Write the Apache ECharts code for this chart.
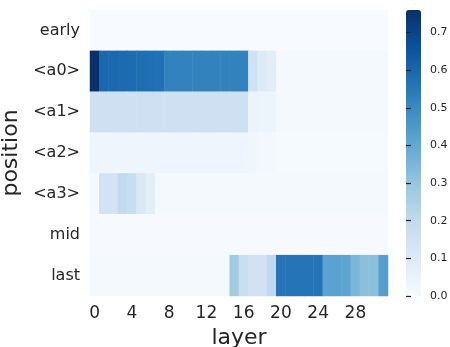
<!DOCTYPE html>
<html><head><meta charset="utf-8">
<script src="https://cdn.jsdelivr.net/npm/echarts@6/dist/echarts.min.js"></script>
<style>html,body{margin:0;padding:0;background:#fff}#c{width:450px;height:347px}</style>
</head><body><div id="c"></div>
<script>
var positions = ['early','<a0>','<a1>','<a2>','<a3>','mid','last'];
var layers = [];
for (var i = 0; i < 32; i++) layers.push(String(i));
var rowEarly = [0,0,0,0,0,0,0,0,0,0,0,0,0,0,0,0,0,0,0,0,0,0,0,0,0,0,0,0,0,0,0,0];
var rowA0 = [0.76,0.6,0.595,0.59,0.585,0.58,0.575,0.57,0.52,0.52,0.52,0.52,0.52,0.52,0.52,0.52,0.52,0.155,0.10,0.085,0.01,0.01,0.01,0.01,0.01,0.01,0.01,0.01,0.01,0.01,0.01,0.01];
var rowA1 = [0.16,0.16,0.16,0.16,0.16,0.16,0.16,0.16,0.16,0.16,0.16,0.16,0.16,0.16,0.16,0.16,0.16,0.045,0.04,0.04,0.01,0.01,0.01,0.01,0.01,0.01,0.01,0.01,0.01,0.01,0.01,0.01];
var rowA2 = [0.035,0.035,0.035,0.035,0.035,0.035,0.035,0.035,0.035,0.035,0.035,0.035,0.035,0.035,0.035,0.035,0.035,0.03,0.015,0.015,0.008,0.008,0.008,0.008,0.008,0.008,0.008,0.008,0.008,0.008,0.008,0.008];
var rowA3 = [0.01,0.14,0.14,0.2,0.18,0.11,0.076,0.01,0.01,0.01,0.01,0.01,0.01,0.01,0.01,0.01,0.01,0.01,0.01,0.01,0.01,0.01,0.01,0.01,0.01,0.01,0.01,0.01,0.01,0.01,0.01,0.01];
var rowMid = [0.005,0.005,0.005,0.005,0.005,0.005,0.005,0.005,0.005,0.005,0.005,0.005,0.005,0.005,0.005,0.005,0.005,0.005,0.005,0.005,0.005,0.005,0.005,0.005,0.005,0.005,0.005,0.005,0.005,0.005,0.005,0.005];
var rowLast = [0.01,0.01,0.01,0.01,0.01,0.01,0.01,0.01,0.01,0.01,0.01,0.01,0.01,0.01,0.01,0.28,0.17,0.145,0.145,0.205,0.56,0.56,0.56,0.56,0.56,0.42,0.42,0.41,0.35,0.32,0.32,0.43];
var cbAxisMax = 0.8;
var vmax = 0.76;

var rows = [rowEarly,rowA0,rowA1,rowA2,rowA3,rowMid,rowLast];
var data = [];
rows.forEach(function(r, yi){ r.forEach(function(v, xi){ data.push([xi, yi, v]); }); });

var blues = ['#f7fbff','#deebf7','#c6dbef','#9ecae1','#6baed6','#4292c6','#2171b5','#08519c','#08306b'];
var txt = '#262626';
var ff = 'DejaVu Sans';
var barTop = 10, barH = 286;
var axH = barH * cbAxisMax / vmax;
var chart = echarts.init(document.getElementById('c'), null, {renderer:'canvas'});
chart.setOption({
  animation:false,
  textStyle:{fontFamily:ff},
  grid:[
    {left:90, top:10, width:298, height:286, containLabel:false, outerBoundsMode:'none'},
    {left:406, top:barTop + barH - axH, width:15, height:axH, containLabel:false, outerBoundsMode:'none'}
  ],
  xAxis:[
    {type:'category', data:layers, gridIndex:0, axisLine:{show:false}, axisTick:{show:false}, splitLine:{show:false},
     axisLabel:{interval:3, color:txt, fontSize:17, fontFamily:ff, margin:9},
     name:'layer', nameLocation:'middle', nameGap:29, nameTextStyle:{color:txt, fontSize:22, fontFamily:ff}},
    {type:'value', gridIndex:1, show:false, min:0, max:1}
  ],
  yAxis:[
    {type:'category', data:positions, inverse:true, gridIndex:0, axisLine:{show:false}, axisTick:{show:false}, splitLine:{show:false},
     axisLabel:{color:txt, fontSize:16, fontFamily:ff, margin:10},
     name:'position', nameLocation:'middle', nameGap:56, nameRotate:90, nameTextStyle:{color:txt, fontSize:22, fontFamily:ff}},
    {type:'value', gridIndex:1, position:'right', min:0, max:cbAxisMax, interval:0.1, z:10,
     axisLine:{show:true, lineStyle:{color:'rgba(0,0,0,0)'}}, splitLine:{show:false},
     axisTick:{show:true, inside:false, length:5, lineStyle:{color:txt, width:1.2}},
     axisLabel:{showMaxLabel:false, color:txt, fontSize:11, fontFamily:ff, margin:9, formatter:function(v){return v.toFixed(1);}}}
  ],
  visualMap:{type:'continuous', min:0, max:vmax, calculable:false, show:true, orient:'vertical',
    left:406, top:barTop, itemWidth:15, itemHeight:barH, padding:0, text:null, showLabel:false, hoverLink:false,
    inRange:{color:blues}, seriesIndex:0},
  series:[{type:'heatmap', xAxisIndex:0, yAxisIndex:0, data:data, itemStyle:{borderWidth:0}, emphasis:{disabled:true}}]
});
</script></body></html>
